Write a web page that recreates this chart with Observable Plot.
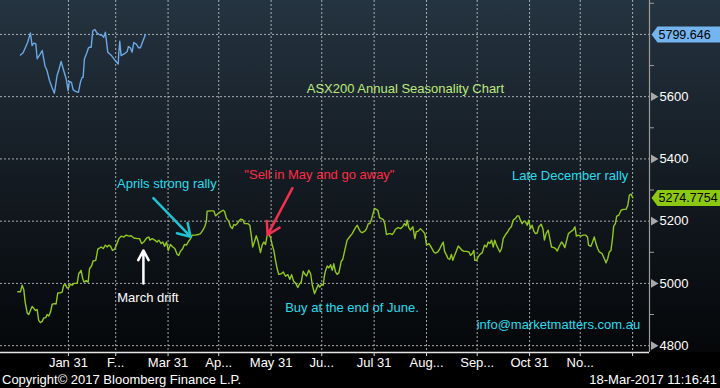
<!DOCTYPE html>
<html><head><meta charset="utf-8">
<script src="https://cdn.jsdelivr.net/npm/d3@7"></script>
<script src="https://cdn.jsdelivr.net/npm/@observablehq/plot@0.6"></script>
<style>
html,body{margin:0;padding:0;background:#000;width:720px;height:388px;overflow:hidden;}
#footer{display:flex;justify-content:space-between;height:16px;line-height:16px;font:13px "Liberation Sans",Arial,sans-serif;color:#fff;padding:0 3px 0 2px;}
</style></head><body>
<div id="chart"></div>
<div id="footer"><span id="copy"></span><span id="stamp"></span></div>
<script>
// ---- Data (x = day of year) ----
const seasonDay = [
1.0,2.6,3.6,4.6,5.4,6.6,7.5,8.5,9.5,10.5,
11.5,12.5,13.4,14.4,15.5,16.4,17.6,18.4,19.4,20.4,
21.4,22.7,23.7,24.7,26.3,27.3,28.2,29.2,30.3,31.2,
32.2,33.2,34.2,36.2,37.1,38.5,39.5,40.3,41.5,42.7,
43.5,44.7,45.6,47.2,48.4,49.6,50.4,51.6,52.9,54.0,
54.9,55.9,57.1,58.3,59.4,60.9,62.4,63.8,65.2,66.7,
68.1,69.7,71.7,73.1,74.3,75.6,76.6,77.6,78.6,79.2,
80.6,82.1,83.5,84.5,85.9,86.9,87.9,89.1,90.1,91.4,
92.8,94.0,95.4,96.3,97.3,98.7,99.7,100.9,101.9,103.3,
104.3,106.2,107.8,109.2,110.6,111.7,112.7,113.1,115.1,117.1,
118.1,119.2,121.0,122.6,123.4,124.6,125.9,127.0,128.0,128.9,
129.9,130.9,131.9,132.9,134.2,135.2,136.2,137.2,138.4,139.4,
140.1,141.1,142.2,143.1,144.7,145.7,146.7,147.7,148.6,149.6,
150.6,151.6,152.6,153.6,154.6,155.5,157.0,158.2,159.5,160.9,
162.1,163.1,164.4,165.5,166.8,167.8,168.8,170.0,170.8,172.0,
173.3,174.4,175.4,176.7,177.9,178.9,179.8,180.8,181.8,182.6,
183.2,184.2,185.2,186.2,187.2,188.1,189.1,190.1,191.1,192.5,
193.4,194.6,196.0,197.4,199.0,200.6,202.0,202.9,203.9,204.9,
206.5,207.5,208.5,209.4,210.4,211.4,212.2,213.2,214.2,215.2,
216.2,217.4,218.3,219.3,220.7,221.7,222.7,223.6,224.6,226.2,
227.6,228.9,229.9,230.9,231.5,232.5,233.5,234.9,236.1,236.9,
238.1,239.4,240.8,242.0,243.0,244.4,245.4,246.4,247.3,248.3,
249.7,250.9,251.9,252.9,253.7,254.9,255.7,256.7,257.7,258.6,
259.6,260.8,261.8,263.1,264.1,265.1,266.7,268.1,269.1,270.1,
271.0,271.6,272.6,273.6,274.6,276.0,277.3,278.5,279.5,280.5,
281.5,282.5,283.4,284.4,285.4,286.4,287.4,288.4,289.8,291.1,
292.1,293.2,294.3,295.7,296.7,297.6,298.6,299.6,300.6,301.6,
302.6,303.5,304.5,305.5,306.5,307.5,308.5,309.5,310.9,311.9,
312.8,313.8,315.0,316.0,317.0,318.4,319.4,320.4,321.4,322.9,
323.7,324.9,326.0,327.0,328.3,329.7,330.9,331.7,332.9,334.3,
335.7,337.3,338.3,338.9,340.3,341.3,342.3,343.3,344.3,345.3,
346.9,348.2,349.3,350.3,351.2,352.2,353.2,353.8,354.8,355.6,
356.8,358.2,359.5,361.2,362.2,363.1,364.1,365.1];
const seasonValue = [
4973,4973,4994,4980,4940,4905,4900,4913,4926,4920,
4913,4916,4881,4874,4878,4889,4890,4900,4895,4908,
4933,4935,4934,4969,4970,4972,4994,4996,4985,4987,
4998,4994,5000,5000,5031,5042,5015,5004,5009,5004,
5047,5056,5072,5074,5110,5114,5117,5112,5123,5117,
5123,5120,5106,5109,5123,5144,5152,5149,5155,5152,
5153,5146,5144,5144,5128,5133,5141,5147,5149,5139,
5144,5139,5133,5139,5128,5133,5119,5133,5106,5125,
5117,5112,5093,5090,5103,5112,5125,5123,5133,5144,
5155,5155,5157,5160,5171,5182,5200,5232,5233,5233,
5217,5222,5230,5235,5232,5209,5200,5182,5176,5189,
5187,5192,5200,5206,5205,5192,5192,5192,5187,5149,
5117,5133,5153,5139,5099,5123,5133,5125,5153,5158,
5149,5125,5106,5074,5047,5029,5031,5037,5023,5028,
5013,5028,5006,5001,4987,4998,5004,5039,5031,5024,
5042,5031,4994,4967,4983,4996,4988,4996,4994,5026,
5040,5056,5050,5060,5042,5063,5037,5029,5034,5071,
5077,5106,5139,5149,5160,5176,5187,5176,5166,5163,
5168,5176,5192,5192,5205,5225,5241,5238,5235,5211,
5209,5205,5192,5157,5160,5160,5157,5163,5174,5179,
5176,5182,5192,5185,5203,5179,5171,5182,5144,5166,
5168,5176,5168,5160,5123,5128,5120,5110,5101,5097,
5101,5112,5123,5133,5103,5090,5080,5077,5093,5074,
5090,5106,5120,5112,5106,5103,5103,5101,5090,5096,
5106,5074,5074,5085,5093,5099,5123,5117,5133,5128,
5139,5117,5139,5123,5112,5101,5112,5144,5157,5166,
5176,5182,5203,5209,5217,5217,5203,5192,5200,5198,
5187,5203,5176,5187,5168,5160,5162,5182,5190,5176,
5139,5160,5171,5144,5117,5115,5112,5104,5117,5133,
5128,5115,5139,5160,5166,5171,5182,5152,5155,5152,
5155,5155,5149,5123,5119,5133,5149,5128,5112,5101,
5096,5080,5066,5080,5101,5106,5149,5184,5192,5216,
5219,5235,5238,5238,5252,5284,5287,5274.7754];

const ytdDay = [
2.6,4.2,5.6,6.9,8.5,9.5,10.5,11.7,12.5,14.0,
15.5,17.2,18.0,18.6,19.8,21.4,22.7,24.3,25.5,26.7,
28.2,29.7,30.8,31.6,32.8,33.8,35.2,36.9,38.1,39.1,
39.7,40.5,41.7,42.9,43.6,44.5,45.4,46.6,48.0,49.5,
51.0,51.9,52.9,54.3,56.5,58.4,60.5,60.8,61.4,62.2,
64.2,65.8,66.5,67.7,68.7,69.7,71.3,72.6,73.6,75.0,76.6];
const ytdValue = [
5734,5741,5759,5775,5805,5764,5772,5770,5722,5734,
5748,5697,5689,5678,5652,5628,5611,5668,5689,5713,
5684,5657,5619,5649,5646,5622,5617,5614,5646,5662,
5662,5722,5738,5757,5759,5759,5811,5816,5804,5799,
5797,5791,5807,5743,5732,5718,5705,5738,5778,5732,
5738,5745,5761,5757,5743,5774,5768,5757,5757,5777,5799.646];

const xTicks = [31,59,90,120,151,181,212,243,273,304,334,365];
const xTickLabels = ["Jan 31","F...","Mar 31","Ap...","May 31","Ju...","Jul 31","Aug...","Sep...","Oct 31","No...",""];
const yGridTicks = [4800,5000,5200,5400,5600,5800];
const yLabelTicks = [4800,5000,5200,5400,5600];
const yMinorTicks = [4900,5100,5300,5500,5700,5900];
const lastLabels = ["5799.646","5274.7754"];
const lastValues = [5799.646,5274.7754];

const titleText = "ASX200 Annual Seasonality Chart";
const copyrightText = "Copyright© 2017 Bloomberg Finance L.P.";
const stampText = "18-Mar-2017 11:16:41";

// ---- Layout / styles ----
const xDomain = [-9.2, 375];
const yDomain = [4778, 5909];
const CYAN = "#27dcee";
const FONT = '"Liberation Sans", Arial, sans-serif';

const season = seasonDay.map((d, i) => ({day: d, value: seasonValue[i]}));
const ytd = ytdDay.map((d, i) => ({day: d, value: ytdValue[i]}));
const badgesData = lastValues.map((v, i) => ({value: v, label: lastLabels[i], fill: ["#74b4ef", "#8cc812"][i]}));

const notes = [
  {label: titleText, day: 230.5, value: 5626, color: "#bdea7c"},
  {label: "Aprils strong rally", day: 89.3, value: 5320, color: CYAN},
  {label: "March drift", day: 78.1, value: 4953, color: "#ffffff"},
  {label: "\"Sell in May and go away\"", day: 179.6, value: 5348, color: "#ff2b45"},
  {label: "Buy at the end of June.", day: 198.9, value: 4921, color: CYAN},
  {label: "Late December rally", day: 328, value: 5345, color: CYAN},
  {label: "info@marketmatters.com.au", day: 321.1, value: 4867, color: CYAN}
];
const arrows = [
  {x1: 81.3, y1: 5274, x2: 103.3, y2: 5150, color: "#1fc2d0", angle: 64},
  {x1: 75.4, y1: 5000, x2: 75.4, y2: 5106, color: "#ffffff", angle: 56},
  {x1: 163.6, y1: 5306, x2: 148.9, y2: 5156, color: "#f0304f", angle: 62}
];

// badge shape: arrow tip at the symbol origin, box extending to the right
const badgeSymbol = {
  draw(context) {
    context.moveTo(0, 0);
    context.lineTo(6, -8);
    context.lineTo(72, -8);
    context.lineTo(72, 8);
    context.lineTo(6, 8);
    context.closePath();
  }
};

const chart = Plot.plot({
  width: 720, height: 372,
  marginLeft: 0, marginRight: 71, marginTop: 0, marginBottom: 20,
  x: {domain: xDomain},
  y: {domain: yDomain},
  style: {
    background: "linear-gradient(to bottom, #253441 0px, #1a242d 110px, #10161c 220px, #050709 352px, #000 352px)",
    fontFamily: FONT, fontSize: "13px", color: "#fff", overflow: "visible"
  },
  marks: [
    Plot.gridY(yGridTicks, {stroke: "#c4c4c4", strokeOpacity: 0.85, strokeDasharray: "2,2"}),
    Plot.gridX(xTicks, {stroke: "#c4c4c4", strokeOpacity: 0.85, strokeDasharray: "2,2"}),
    Plot.ruleY([yDomain[0]], {stroke: "#e6e6e6", strokeWidth: 1.5}),
    Plot.ruleX([xDomain[1]], {stroke: "#9c9c9c", strokeWidth: 1.2}),
    Plot.axisX(xTicks, {tickSize: 4, tickPadding: 1, stroke: "#d8d8d8", fill: "#fff", label: null,
      tickFormat: d => xTickLabels[xTicks.indexOf(d)]}),
    Plot.axisY(yMinorTicks, {anchor: "right", tickSize: 4, tickFormat: () => "", stroke: "#9c9c9c", label: null}),
    Plot.axisY(yLabelTicks, {anchor: "right", tickSize: 0, tickPadding: 10, fill: "#fff", label: null,
      tickFormat: d => String(d)}),
    Plot.dot(yLabelTicks, {y: d => d, frameAnchor: "right", dx: 4, symbol: "triangle", r: 3.2, rotate: 90, fill: "#a8a8a8"}),
    Plot.line(ytd, {x: "day", y: "value", stroke: "#6aa8e6", strokeWidth: 1.4}),
    Plot.line(season, {x: "day", y: "value", stroke: "#93c81c", strokeWidth: 1.4}),
    ...arrows.map(a => Plot.arrow([a], {x1: "x1", y1: "y1", x2: "x2", y2: "y2",
      stroke: a.color, strokeWidth: 2.5, headLength: 8.4, headAngle: a.angle})),
    ...notes.map(n => Plot.text([n], {x: "day", y: "value", text: "label", fill: n.color,
      fontSize: 13, textAnchor: "middle"})),
    ...badgesData.map(b => Plot.dot([b], {y: "value", frameAnchor: "right", dx: 2,
      symbol: badgeSymbol, fill: b.fill, stroke: "none"})),
    Plot.text(badgesData, {y: "value", text: "label", frameAnchor: "right", dx: 9,
      textAnchor: "start", fill: "#000", fontSize: 12.5})
  ]
});
document.getElementById("chart").append(chart);
document.getElementById("copy").textContent = copyrightText;
document.getElementById("stamp").textContent = stampText;
</script></body></html>
